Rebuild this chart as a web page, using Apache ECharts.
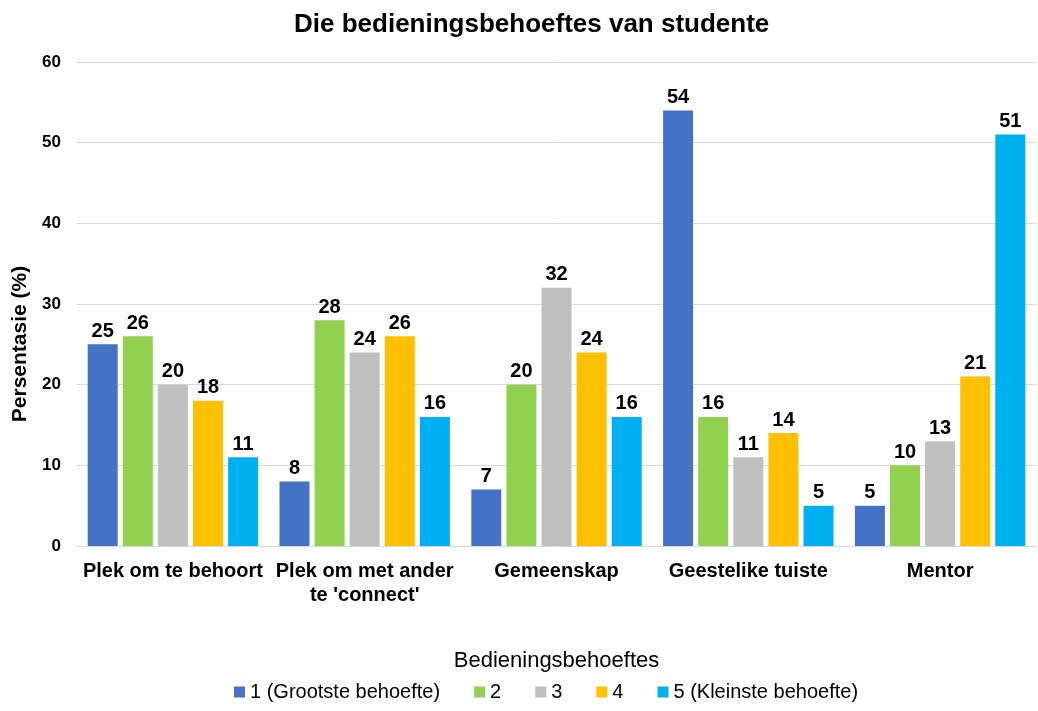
<!DOCTYPE html>
<html>
<head>
<meta charset="utf-8">
<script src="https://cdn.jsdelivr.net/npm/echarts@6/dist/echarts.min.js"></script>
<style>html,body{margin:0;padding:0;background:#fff}#c{width:1038px;height:711px}</style>
</head>
<body>
<div id="c"></div>
<script>
const categories = ["Plek om te behoort", "Plek om met ander\nte 'connect'", "Gemeenskap", "Geestelike tuiste", "Mentor"];
const seriesNames = ["1 (Grootste behoefte)", "2", "3", "4", "5 (Kleinste behoefte)"];
const rank1 = [25, 8, 7, 54, 5];
const rank2 = [26, 28, 20, 16, 10];
const rank3 = [20, 24, 32, 11, 13];
const rank4 = [18, 26, 24, 14, 21];
const rank5 = [11, 16, 16, 5, 51];
const colors = ["#4472C4", "#92D050", "#BFBFBF", "#FFC000", "#00B0F0"];
const values = [rank1, rank2, rank3, rank4, rank5];
const font = "Liberation Sans, Arial, sans-serif";

const chart = echarts.init(document.getElementById('c'));
chart.setOption({
  animation: false,
  textStyle: { fontFamily: font },
  title: {
    text: "Die bedieningsbehoeftes van studente",
    left: 289, top: 7,
    textStyle: { fontSize: 26, fontWeight: 'bold', color: '#000', fontFamily: font }
  },
  legend: {
    bottom: 4, left: 229,
    itemWidth: 11, itemHeight: 11, itemGap: 34, itemStyle: { borderWidth: 0 },
    icon: 'rect',
    textStyle: { fontSize: 20, color: '#000', fontFamily: font }
  },
  grid: { left: 77, right: 2, top: 62, bottom: 165, outerBoundsMode: 'none', containLabel: false },
  xAxis: {
    type: 'category',
    data: categories,
    name: "Bedieningsbehoeftes",
    nameLocation: 'middle',
    nameGap: 104,
    nameTextStyle: { fontSize: 22, color: '#000', fontFamily: font },
    axisLine: { lineStyle: { color: '#D9D9D9' } },
    axisTick: { show: false },
    axisLabel: { fontSize: 20, fontWeight: 'bold', color: '#000', margin: 13, lineHeight: 24, interval: 0 }
  },
  yAxis: {
    type: 'value', min: 0, max: 60, interval: 10,
    name: "Persentasie (%)",
    nameLocation: 'middle',
    nameGap: 43,
    nameTextStyle: { fontSize: 21, fontWeight: 'bold', color: '#000', fontFamily: font, padding: [0, 80, 0, 0] },
    axisLine: { show: false },
    axisTick: { show: false },
    splitLine: { lineStyle: { color: '#D9D9D9' } },
    axisLabel: { fontSize: 17, fontWeight: 'bold', color: '#000', margin: 16 }
  },
  series: values.map((v, i) => ({
    name: seriesNames[i],
    type: 'bar',
    data: v,
    barWidth: 30,
    barGap: '17%',
    itemStyle: { color: colors[i] },
    label: { show: true, position: 'top', fontSize: 20, fontWeight: 'bold', color: '#000', distance: 3 }
  }))
});
</script>
</body>
</html>
